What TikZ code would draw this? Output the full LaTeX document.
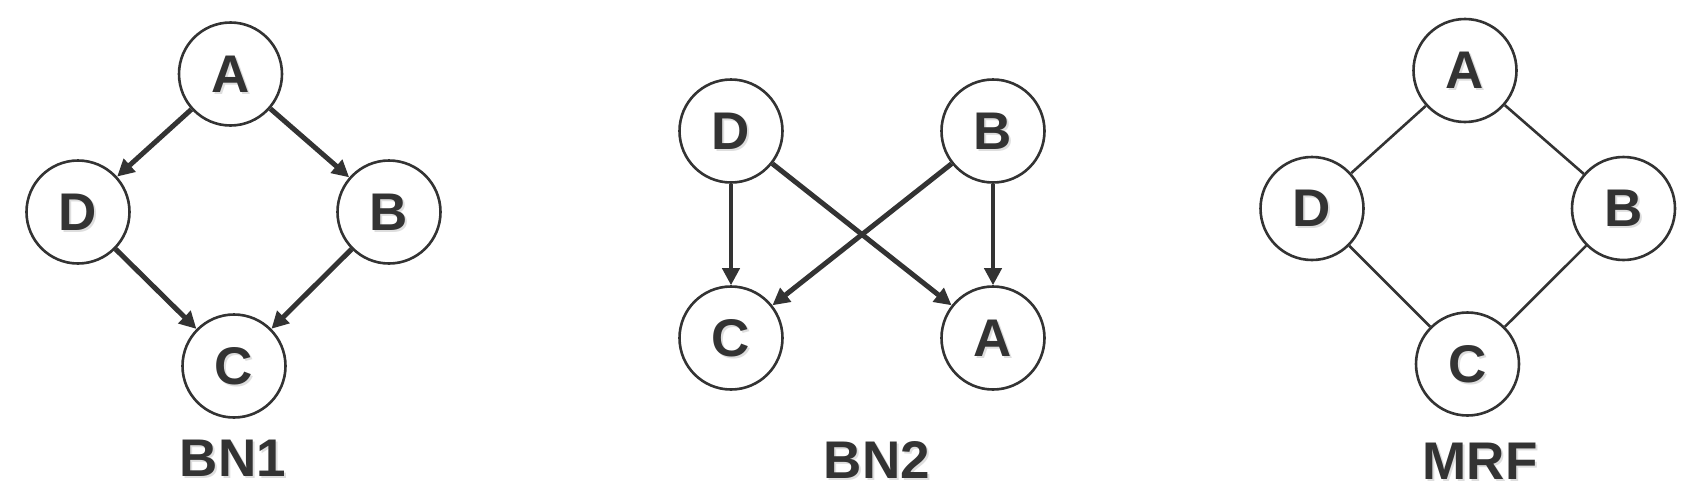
\documentclass[tikz,border=0pt]{standalone}
\usepackage{fontspec}
\setmainfont{Liberation Sans}
\usetikzlibrary{arrows.meta}
\definecolor{ink}{HTML}{333333}
\newcommand\shd[1]{\makebox[0pt][l]{\smash{\hspace{2pt}\raisebox{-2pt}{\textcolor{black!13}{#1}}}}#1}
\tikzset{
  vnode/.style={circle, draw=ink, line width=2.6pt, fill=white, minimum size=103pt, inner sep=0pt,
    font=\fontsize{53}{60}\selectfont\bfseries, text=ink},
  titletext/.style={font=\fontsize{53}{60}\selectfont\bfseries, text=ink, inner sep=0pt},
  dirEdge/.style={draw=ink, line width=5pt, -{Triangle[length=17pt,width=17pt]}},
  vertEdge/.style={draw=ink, line width=4pt, -{Triangle[length=17pt,width=17pt]}},
  undEdge/.style={draw=ink, line width=2.6pt}
}
\begin{document}
\begin{tikzpicture}[x=1pt,y=-1pt]
\path[use as bounding box] (0,0) rectangle (1700,490);
% BN1
\node[vnode] (a1) at (230.5,74) {\shd{A}};
\node[vnode] (d1) at (78,212) {\shd{D}};
\node[vnode] (b1) at (389,212) {\shd{B}};
\node[vnode] (c1) at (234,366) {\shd{C}};
\draw[dirEdge] (a1) -- (d1);
\draw[dirEdge] (a1) -- (b1);
\draw[dirEdge] (d1) -- (c1);
\draw[dirEdge] (b1) -- (c1);
\node[titletext] (t1) at (233,458.5) {\shd{BN1}};
% BN2
\node[vnode] (d2) at (731,131) {\shd{D}};
\node[vnode] (b2) at (993,131) {\shd{B}};
\node[vnode] (c2) at (731,338) {\shd{C}};
\node[vnode] (a2) at (993,338) {\shd{A}};
\draw[vertEdge] (d2) -- (c2);
\draw[vertEdge] (b2) -- (a2);
\draw[dirEdge] (d2) -- (a2);
\draw[dirEdge] (b2) -- (c2);
\node[titletext] (t2) at (877,460) {\shd{BN2}};
% MRF
\node[vnode] (a3) at (1465,70.5) {\shd{A}};
\node[vnode] (d3) at (1312,208.5) {\shd{D}};
\node[vnode] (b3) at (1623.5,208.5) {\shd{B}};
\node[vnode] (c3) at (1467.5,364) {\shd{C}};
\draw[undEdge] (a3) -- (d3);
\draw[undEdge] (a3) -- (b3);
\draw[undEdge] (d3) -- (c3);
\draw[undEdge] (b3) -- (c3);
\node[titletext] (t3) at (1480,461) {\shd{MRF}};
\end{tikzpicture}
\end{document}
